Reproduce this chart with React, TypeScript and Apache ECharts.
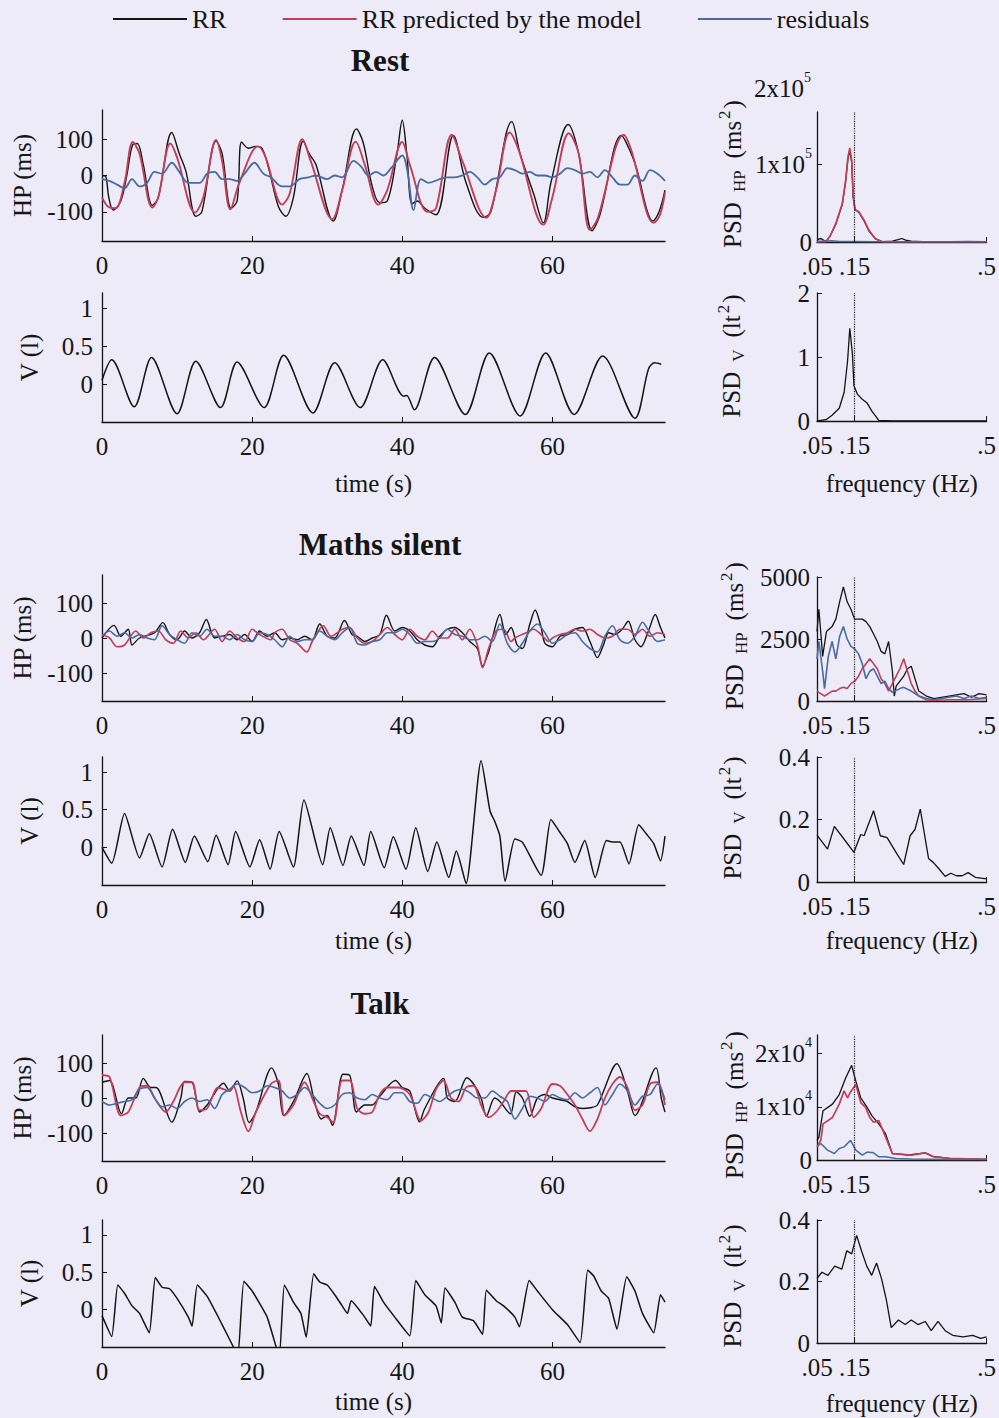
import React, { useEffect, useRef } from 'react';
import * as echarts from 'echarts';

const FONT = "'Liberation Serif', 'Times New Roman', serif";
const INK = '#151515';
const BLACK = '#141414';
const RED = '#c0405a';
const BLUE = '#4a6b9c';
const TICK_FS = 25;
const NAME_FS = 25;

const timeTicks = [0, 20, 40, 60];
const hpTicks = [-100, 0, 100];
const vTicks = [0, 0.5, 1];
const freqTicks = [0.05, 0.15, 0.5];
const bandLimit = 0.15;
const legendNames = ['RR', 'RR predicted by the model', 'residuals'];

// ---------- REST ----------
const restRR = [[0,0],[0.5,-3],[0.9,-60],[1.5,-95],[2.5,-70],[3.3,0],[4.1,85],[4.7,88],[5.5,30],[6.7,-82],[7.5,-60],[9.3,118],[10.3,60],[11.2,10],[12.5,-112],[13.3,-100],[15.2,95],[16,60],[17.2,-90],[18,-70],[18.6,92],[19.5,75],[20.5,80],[21.3,75],[22.2,20],[23.5,-85],[24.5,-112],[25.5,-60],[26.8,95],[27.6,60],[28.5,30],[30.8,-125],[32,-40],[33.9,128],[34.8,90],[36,-30],[37,-75],[38,-70],[39.3,60],[40.0,152],[40.6,60],[41.3,-78],[42,-70],[43,-90],[44.5,-108],[46.8,110],[48.5,-20],[50.8,-115],[51.8,-100],[54.6,148],[55.7,60],[57.5,-50],[58.8,-130],[59.8,-20],[62.1,140],[63.5,60],[65.3,-152],[66.3,-110],[69.2,110],[70.5,60],[71.2,20],[73.4,-125],[74.2,-100],[75,-40]];
const restPred = [[0,-60],[0.8,-85],[1.8,-90],[3,-20],[4.1,92],[5,60],[6.7,-88],[7.5,-60],[9.1,88],[10,50],[12.4,-102],[13.5,-60],[15.2,98],[16,40],[17.1,-93],[18.3,-20],[20.8,80],[21.8,50],[24,-80],[25,-50],[26.7,100],[27.8,40],[30.7,-120],[32,-40],[33.8,93],[35,30],[36.8,-80],[38,-40],[40,92],[41,30],[43.4,-100],[44.5,-90],[46.6,112],[48,40],[51.2,-116],[52.5,-40],[54.3,118],[55.5,70],[58.8,-135],[60,-60],[62.2,116],[63.5,60],[65,-150],[66,-120],[69.5,112],[70.5,70],[73.5,-130],[74.3,-110],[75,-47]];
const restResid = [[0,-10],[1,-15],[2,-25],[3,-35],[4,-10],[5,-30],[6,-20],[7,10],[8,5],[9.3,35],[10.3,10],[11.5,-20],[13,-20],[14,5],[15,10],[16,-10],[17,-10],[18,-15],[19,5],[20.3,35],[21.5,5],[22.5,-5],[24,-30],[25,-30],[26.3,-10],[27.5,-5],[28.5,0],[30,-10],[31,0],[32,-5],[33.5,40],[34.5,25],[35.5,0],[36.5,10],[37.5,0],[38.5,20],[40,55],[40.7,10],[41.5,-95],[42.5,-10],[43.5,-20],[45,-10],[46,-5],[47,-5],[48,0],[49,10],[50,-5],[51,-25],[52,-10],[53,-5],[54,20],[55,15],[56,5],[57,10],[58,0],[59,0],[60,-5],[61,5],[62,20],[63,15],[64,5],[65,10],[66,-5],[67,15],[68,-5],[69,-25],[70,-25],[71,0],[72,-15],[73,15],[74,5],[75,-15]];
const restV = [[0,0.05],[1.3,0.32],[4.3,-0.3],[6.6,0.35],[10,-0.39],[12.5,0.3],[15.8,-0.31],[18,0.29],[21.6,-0.31],[24.2,0.38],[28.1,-0.38],[31,0.28],[34.4,-0.31],[37.4,0.32],[40.2,-0.16],[40.6,-0.15],[41.6,-0.34],[44.3,0.35],[48.4,-0.4],[51.6,0.41],[55.7,-0.42],[59.1,0.41],[62.9,-0.4],[66.7,0.37],[71,-0.45],[72.8,0.2],[73.6,0.28],[74.5,0.26]];
const restPsdRR = [[0.05,1500],[0.055,4000],[0.06,4500],[0.065,3000],[0.07,1500],[0.074,500],[0.085,8000],[0.1,23000],[0.117,48000],[0.126,78000],[0.132,106000],[0.137,117000],[0.142,103000],[0.146,58000],[0.151,42000],[0.161,38000],[0.175,27000],[0.188,14000],[0.205,4000],[0.223,500],[0.25,1000],[0.265,3000],[0.275,4500],[0.285,2500],[0.3,1000],[0.33,600],[0.38,300],[0.45,200],[0.5,300]];
const restPsdPred = [[0.05,0],[0.074,300],[0.085,8000],[0.1,24000],[0.117,49000],[0.126,79000],[0.132,109000],[0.137,121000],[0.142,105000],[0.146,58000],[0.151,41000],[0.161,39000],[0.175,28000],[0.188,15000],[0.205,4300],[0.223,300],[0.25,200],[0.3,100],[0.4,100],[0.5,100]];
const restPsdResid = [[0.05,800],[0.07,1200],[0.09,1500],[0.11,800],[0.13,500],[0.15,600],[0.2,400],[0.3,300],[0.4,200],[0.45,600],[0.5,300]];
const restPsdV = [[0.05,0],[0.074,0.02],[0.09,0.09],[0.109,0.2],[0.122,0.45],[0.131,0.93],[0.137,1.45],[0.144,1.04],[0.148,0.55],[0.157,0.42],[0.17,0.34],[0.183,0.28],[0.196,0.15],[0.214,0.01],[0.25,0],[0.5,0]];

// ---------- MATHS SILENT ----------
const mathsRR = [[0,0],[1.6,36],[2.5,5],[3.5,25],[4,-20],[5,0],[7,15],[8.1,44],[9,10],[10,-5],[11,20],[12,0],[13,15],[13.9,53],[15,0],[16,5],[17,10],[18,-5],[19,10],[20,-10],[21,20],[22,5],[23,15],[24,-5],[25,0],[26,-5],[27,5],[28,-5],[29,40],[30,5],[31,0],[32.3,50],[33.3,10],[34,5],[35,-10],[36,0],[37,10],[37.9,65],[39,20],[40,30],[41,20],[42,-5],[43,-20],[44,-25],[45,5],[46,25],[47,30],[48,15],[49,-10],[50,-30],[50.7,-80],[51.5,-40],[52,0],[53,67],[53.8,10],[54.5,30],[55.3,-20],[56,-30],[57,40],[57.7,80],[58.5,30],[59,-15],[60,-25],[61,5],[62,10],[63,25],[64,30],[65,-10],[66,-56],[66.8,-20],[67.5,15],[68.3,10],[69.3,25],[70.1,48],[71,-5],[71.8,-25],[72.8,20],[73.7,67],[74.4,30],[75,0]];
const mathsPred = [[0,10],[1,0],[2,-25],[3,-20],[4.5,20],[5.5,0],[6.5,15],[7.5,20],[8.5,-5],[9.5,-15],[10.5,20],[11.5,0],[12.5,15],[13.5,-5],[15,25],[16,-10],[17,20],[18,0],[19,-10],[20,25],[21,10],[22.5,-5],[23,15],[24,25],[25,-5],[26,-15],[27.3,-40],[28,-10],[29.5,35],[30.5,5],[32,25],[33,30],[34,0],[35,-15],[36,-10],[37,10],[38,30],[39,10],[40,-5],[41,25],[42,5],[43,-5],[44,20],[45,0],[46,0],[47,25],[48,-5],[49,25],[50,-20],[50.7,-85],[51.5,-30],[52.5,20],[53.5,25],[54.5,-10],[55,0],[56.5,15],[57.5,25],[58.5,10],[59.5,-10],[60,0],[61,10],[62,15],[63,25],[64,20],[65,25],[66,10],[67,0],[68,5],[69,25],[70,25],[71,10],[72,25],[73,5],[74,15],[75,10]];
const mathsResid = [[0,5],[1,20],[2,5],[3,15],[4,0],[5,10],[6,0],[7,-5],[8,35],[9,10],[10,-5],[11,-15],[12,15],[13,5],[14,25],[15,5],[16,5],[17,-5],[18,10],[19,-5],[20,-10],[21,15],[22,10],[23,-5],[24,-25],[25,5],[26,-10],[27,-5],[28,-5],[29,20],[30,5],[31,-5],[32,15],[33,30],[34,-15],[35,-20],[36,-10],[37,-5],[38,15],[39,15],[40,25],[41,10],[42,-15],[43,-10],[44,-10],[45,0],[46,25],[47,10],[48,5],[49,-5],[50,-5],[51,5],[52,-10],[53,40],[54,-15],[55,-40],[56,-15],[57,20],[58,40],[59,15],[60,-15],[61,-5],[62,10],[63,15],[64,-10],[65,-30],[66,-40],[67,5],[68,35],[69,-5],[70,-15],[71,5],[72,45],[73,15],[74,-10],[75,-5]];
const mathsV = [[0,0],[1.3,-0.21],[3,0.45],[5,-0.14],[6.3,0.18],[8,-0.26],[9.4,0.24],[11.1,-0.2],[12.3,0.15],[14.1,-0.19],[15.2,0.16],[16.8,-0.23],[17.8,0.21],[19.7,-0.26],[21,0.1],[22.4,-0.29],[23.6,0.21],[25.5,-0.26],[26.9,0.63],[29.4,-0.23],[30.4,0.26],[32.1,-0.24],[33.2,0.15],[34.9,-0.24],[35.8,0.21],[37.6,-0.27],[38.8,0.14],[40.5,-0.29],[41.8,0.26],[43.4,-0.32],[44.6,0.07],[46.2,-0.4],[47.2,-0.05],[48.5,-0.48],[50.5,1.15],[51.7,0.48],[52.3,0.35],[53,0.15],[53.7,-0.45],[55,0.11],[56,0.07],[58.5,-0.37],[59.8,0.37],[61,0.2],[62,0.05],[63,-0.2],[64.3,0.09],[65.7,-0.4],[67.2,0.09],[68,0.07],[69,0.07],[70.2,-0.22],[71.5,0.3],[72.5,0.18],[73.5,0.05],[74.4,-0.18],[75,0.15]];
const mathsPsdRR = [[0.05,2800],[0.055,3700],[0.065,1800],[0.075,2800],[0.09,3000],[0.1,3300],[0.11,4000],[0.12,4600],[0.13,4000],[0.14,3700],[0.15,3300],[0.16,3300],[0.17,3300],[0.18,3200],[0.19,3000],[0.2,2700],[0.21,2400],[0.22,2000],[0.23,1900],[0.24,2400],[0.25,1200],[0.255,200],[0.26,600],[0.27,800],[0.28,1000],[0.29,1300],[0.3,1400],[0.31,900],[0.32,400],[0.34,200],[0.36,100],[0.38,150],[0.4,200],[0.42,250],[0.44,300],[0.46,150],[0.48,300],[0.5,250]];
const mathsPsdPred = [[0.05,400],[0.06,300],[0.07,200],[0.08,300],[0.09,400],[0.1,400],[0.11,500],[0.12,550],[0.13,500],[0.14,700],[0.15,800],[0.16,1000],[0.17,1300],[0.18,1500],[0.19,1700],[0.2,1500],[0.21,1300],[0.22,900],[0.23,700],[0.24,400],[0.25,700],[0.26,1000],[0.27,1300],[0.28,1700],[0.29,1200],[0.3,700],[0.31,400],[0.32,200],[0.34,50],[0.36,20],[0.4,50],[0.45,50],[0.5,100]];
const mathsPsdResid = [[0.05,1700],[0.055,2400],[0.065,1200],[0.07,500],[0.08,1800],[0.09,2400],[0.1,1700],[0.11,2600],[0.12,3000],[0.13,2500],[0.14,2200],[0.15,2100],[0.16,1900],[0.17,1500],[0.18,900],[0.19,1200],[0.2,1300],[0.21,1000],[0.22,700],[0.23,800],[0.24,500],[0.25,350],[0.27,500],[0.28,550],[0.3,400],[0.32,200],[0.34,100],[0.36,50],[0.38,100],[0.4,150],[0.42,200],[0.44,100],[0.46,200],[0.48,100],[0.5,150]];
const mathsPsdV = [[0.05,0.15],[0.078,0.105],[0.096,0.178],[0.12,0.14],[0.148,0.095],[0.166,0.152],[0.175,0.148],[0.2,0.228],[0.218,0.148],[0.236,0.142],[0.262,0.09],[0.28,0.056],[0.297,0.148],[0.31,0.168],[0.324,0.233],[0.346,0.075],[0.359,0.062],[0.375,0.04],[0.39,0.018],[0.405,0.028],[0.42,0.02],[0.435,0.02],[0.451,0.03],[0.47,0.015],[0.5,0.01]];

// ---------- TALK ----------
const talkRR = [[0,45],[1,50],[2.6,-45],[3.5,0],[4.5,0],[5.5,56],[6.5,30],[7.2,30],[9.3,-69],[10.5,0],[11,47],[12,45],[13,-40],[14,-20],[16.2,42],[17,20],[18,49],[18.8,0],[19.6,-70],[20.5,-40],[22.6,86],[23.5,40],[24.2,-50],[25.5,-10],[27.3,70],[28.2,0],[29.2,-60],[30,-50],[30.7,-78],[32.1,68],[33,65],[33.9,-40],[35,-20],[36,-20],[37,5],[39.1,50],[40,30],[41,20],[42.3,-68],[43,-30],[45.5,56],[46,0],[47,-10],[48.6,58],[49.5,40],[50.5,0],[51.2,-52],[52.3,0],[53,-10],[54.4,-45],[55.2,18],[56,0],[57,-52],[58,0],[59,10],[60,0],[61,-5],[62,-10],[63,-25],[64,-30],[65,-28],[66,-20],[68.6,98],[70,20],[71,-50],[73.8,86],[74.5,0],[75,-40]];
const talkPred = [[0,65],[1,60],[2.5,-50],[3.5,-40],[5,30],[6,35],[7,0],[8.5,-40],[9.5,-10],[11,45],[12,45],[13,-35],[14,-30],[15.5,30],[17,20],[17.5,35],[18.5,-40],[19.5,-95],[20.5,-40],[22.5,40],[23.5,50],[24.3,-50],[25.5,-20],[27,45],[28,0],[29,-45],[30,-55],[30.8,-70],[32,50],[33,50],[34,-30],[35,-45],[36,-40],[37,10],[38,30],[39.5,30],[41,10],[42.5,-65],[43.5,-40],[44.5,25],[45.5,50],[46.5,0],[47.5,-10],[48.5,30],[49.5,35],[50.5,-20],[51.5,-55],[52.5,-40],[53.5,-10],[54.5,20],[55.5,20],[56.5,20],[57.5,-55],[58.5,-30],[60,40],[61,35],[62,10],[63,-20],[64,-60],[65,-95],[66,-60],[67,0],[68,40],[69,60],[70,30],[71,-35],[72,-20],[73,40],[74,45],[75,-20]];
const talkResid = [[0,-10],[1,-20],[2,-15],[3,-10],[4,-5],[5,25],[6,30],[7,0],[8,-25],[9,-20],[10,-30],[11,-10],[12,0],[13,-10],[14,-5],[15,-30],[16,10],[17,25],[18,40],[19,30],[20,15],[21,20],[22,35],[23,30],[24,20],[25,0],[26,10],[27,30],[28,10],[29,-15],[30,-30],[31,-20],[32,10],[33,15],[34,0],[35,-5],[36,10],[37,0],[38,-5],[39,15],[40,15],[41,-10],[42,-15],[43,10],[44,0],[45,-10],[46,5],[47,20],[48,25],[49,15],[50,0],[51,0],[52,20],[53,5],[54,-10],[55,-60],[56,-30],[57,5],[58,0],[59,-10],[60,10],[61,0],[62,-5],[63,15],[64,0],[65,15],[66,30],[67,-20],[68,10],[69,40],[70,20],[71,-20],[72,5],[73,10],[74,40],[75,-5]];
const talkV = [[0,-0.08],[1.3,-0.36],[2.1,0.33],[3,0.22],[4,0.05],[5,-0.05],[6.3,-0.31],[7.1,0.43],[8,0.3],[9,0.28],[10,0.15],[11.5,-0.1],[12,-0.22],[12.7,0.33],[14,0.18],[16,-0.2],[17.5,-0.5],[18.1,-0.62],[18.9,0.38],[20,0.25],[22,-0.1],[23.6,-0.62],[24.3,0.33],[25.5,0.1],[26.5,-0.05],[27.2,-0.37],[28.2,0.48],[29,0.37],[30,0.33],[31,0.2],[32,0.05],[32.7,-0.05],[33.2,0.12],[35,-0.1],[35.8,-0.22],[36.3,0.31],[37.5,0.1],[39,-0.1],[41,-0.35],[41.8,0.39],[43,0.2],[44.5,0.05],[45.2,-0.18],[45.7,0.29],[47,0.1],[48,-0.1],[49.5,-0.15],[50.7,-0.33],[51.2,0.26],[52.5,0.12],[53.5,0.05],[55,-0.1],[55.6,-0.23],[56.9,0.39],[58,0.25],[60,0],[62,-0.2],[63.7,-0.44],[64.7,0.53],[65.5,0.45],[66.5,0.25],[67.5,0.15],[68.6,-0.26],[69.9,0.44],[71,0.25],[72,-0.05],[73.5,-0.31],[74.4,0.2],[75,0.1]];
const talkPsdRR = [[0.05,3700],[0.055,4300],[0.066,9260],[0.091,10500],[0.109,12300],[0.126,15400],[0.142,17800],[0.153,14800],[0.166,11700],[0.183,9900],[0.196,8300],[0.214,6800],[0.232,4900],[0.25,1200],[0.27,1100],[0.29,900],[0.31,1100],[0.337,1350],[0.355,700],[0.38,500],[0.41,200],[0.44,200],[0.5,100]];
const talkPsdPred = [[0.05,2500],[0.06,3700],[0.066,6800],[0.091,8000],[0.109,10500],[0.122,13000],[0.131,11700],[0.139,12800],[0.153,14200],[0.166,10800],[0.179,9900],[0.19,8000],[0.2,7100],[0.214,7400],[0.232,4300],[0.25,1200],[0.27,1100],[0.3,900],[0.337,1350],[0.36,600],[0.4,300],[0.45,200],[0.5,100]];
const talkPsdResid = [[0.05,2500],[0.06,3100],[0.078,1850],[0.096,1230],[0.109,2160],[0.122,2470],[0.139,3700],[0.153,1850],[0.17,900],[0.183,1500],[0.2,1350],[0.214,600],[0.232,600],[0.26,300],[0.3,200],[0.35,150],[0.4,100],[0.5,100]];
const talkPsdV = [[0.05,0.21],[0.063,0.23],[0.079,0.22],[0.097,0.25],[0.116,0.24],[0.129,0.3],[0.142,0.29],[0.155,0.35],[0.168,0.3],[0.182,0.25],[0.195,0.22],[0.208,0.26],[0.221,0.21],[0.234,0.14],[0.247,0.05],[0.266,0.075],[0.284,0.06],[0.3,0.075],[0.318,0.06],[0.337,0.07],[0.353,0.04],[0.371,0.07],[0.39,0.04],[0.41,0.025],[0.437,0.02],[0.463,0.025],[0.484,0.015],[0.5,0.02]];

const supRich = {
  b: { fontSize: TICK_FS, fontFamily: FONT, color: INK, lineHeight: 36 },
  s: { fontSize: 14, fontFamily: FONT, color: INK, lineHeight: 14, verticalAlign: 'top' as const },
};

function trimZero(v: number) {
  return String(v).replace(/^0\./, '.');
}

type PanelCfg = {
  top: number;
  height: number;
  kind: 'time' | 'freq';
  yMin: number;
  yMax: number;
  yTicks: number[];
  yFormatter?: (v: number) => string;
  yRich?: boolean;
  lines: { name: string; data: number[][]; color: string; width: number }[];
  xName?: string;
  xNameGap?: number;
  yName?: string;
  yNameGap?: number;
  smooth?: number;
};

const panels: PanelCfg[] = [
  // Rest
  { top: 110, height: 131, kind: 'time', yMin: -180, yMax: 180, yTicks: hpTicks, yName: 'HP (ms)', yNameGap: 67, smooth: 0.35,
    lines: [{ name: legendNames[0], data: restRR, color: BLACK, width: 1.4 }, { name: legendNames[1], data: restPred, color: RED, width: 1.9 }, { name: legendNames[2], data: restResid, color: BLUE, width: 1.8 }] },
  { top: 293, height: 129, kind: 'time', yMin: -0.5, yMax: 1.2, yTicks: vTicks, yName: 'V (l)', yNameGap: 60, xName: 'time (s)', xNameGap: 49, smooth: 0.3,
    lines: [{ name: 'V', data: restV, color: BLACK, width: 1.5 }] },
  { top: 112, height: 130, kind: 'freq', yMin: 0, yMax: 167000, yTicks: [0, 100000], yRich: true, yFormatter: (v) => (v === 0 ? '{b|0}' : `{b|${v / 1e5}x10}{s|5}`),
    lines: [{ name: legendNames[0], data: restPsdRR, color: BLACK, width: 1.3 }, { name: legendNames[1], data: restPsdPred, color: RED, width: 1.7 }, { name: legendNames[2], data: restPsdResid, color: BLUE, width: 1.5 }] },
  { top: 293, height: 128, kind: 'freq', yMin: 0, yMax: 2, yTicks: [0, 1, 2], xName: 'frequency (Hz)', xNameGap: 50,
    lines: [{ name: 'PSD V', data: restPsdV, color: BLACK, width: 1.3 }] },
  // Maths silent
  { top: 575, height: 126, kind: 'time', yMin: -180, yMax: 180, yTicks: hpTicks, yName: 'HP (ms)', yNameGap: 67, smooth: 0.3,
    lines: [{ name: legendNames[0], data: mathsRR, color: BLACK, width: 1.4 }, { name: legendNames[1], data: mathsPred, color: RED, width: 1.7 }, { name: legendNames[2], data: mathsResid, color: BLUE, width: 1.6 }] },
  { top: 757, height: 128, kind: 'time', yMin: -0.5, yMax: 1.2, yTicks: vTicks, yName: 'V (l)', yNameGap: 60, xName: 'time (s)', xNameGap: 43, smooth: 0.2,
    lines: [{ name: 'V', data: mathsV, color: BLACK, width: 1.5 }] },
  { top: 577, height: 124, kind: 'freq', yMin: 0, yMax: 5000, yTicks: [0, 2500, 5000],
    lines: [{ name: legendNames[0], data: mathsPsdRR, color: BLACK, width: 1.3 }, { name: legendNames[1], data: mathsPsdPred, color: RED, width: 1.6 }, { name: legendNames[2], data: mathsPsdResid, color: BLUE, width: 1.6 }] },
  { top: 757, height: 125, kind: 'freq', yMin: 0, yMax: 0.4, yTicks: [0, 0.2, 0.4], xName: 'frequency (Hz)', xNameGap: 46,
    lines: [{ name: 'PSD V', data: mathsPsdV, color: BLACK, width: 1.3 }] },
  // Talk
  { top: 1035, height: 126, kind: 'time', yMin: -180, yMax: 180, yTicks: hpTicks, yName: 'HP (ms)', yNameGap: 67, smooth: 0.3,
    lines: [{ name: legendNames[0], data: talkRR, color: BLACK, width: 1.4 }, { name: legendNames[1], data: talkPred, color: RED, width: 1.8 }, { name: legendNames[2], data: talkResid, color: BLUE, width: 1.6 }] },
  { top: 1220, height: 127, kind: 'time', yMin: -0.5, yMax: 1.2, yTicks: vTicks, yName: 'V (l)', yNameGap: 60, xName: 'time (s)', xNameGap: 42, smooth: 0.15,
    lines: [{ name: 'V', data: talkV, color: BLACK, width: 1.5 }] },
  { top: 1035, height: 125, kind: 'freq', yMin: 0, yMax: 23500, yTicks: [0, 10000, 20000], yRich: true, yFormatter: (v) => (v === 0 ? '{b|0}' : `{b|${v / 1e4}x10}{s|4}`),
    lines: [{ name: legendNames[0], data: talkPsdRR, color: BLACK, width: 1.3 }, { name: legendNames[1], data: talkPsdPred, color: RED, width: 1.7 }, { name: legendNames[2], data: talkPsdResid, color: BLUE, width: 1.5 }] },
  { top: 1220, height: 123, kind: 'freq', yMin: 0, yMax: 0.4, yTicks: [0, 0.2, 0.4], xName: 'frequency (Hz)', xNameGap: 48,
    lines: [{ name: 'PSD V', data: talkPsdV, color: BLACK, width: 1.3 }] },
];

const titles = [
  { text: 'Rest', y: 60 },
  { text: 'Maths silent', y: 544 },
  { text: 'Talk', y: 1003 },
];

const psdLabels = [
  { kind: 'HP', x: 732, y: 174 },
  { kind: 'V', x: 731, y: 356 },
  { kind: 'HP', x: 734, y: 636 },
  { kind: 'V', x: 732, y: 818 },
  { kind: 'HP', x: 734, y: 1105 },
  { kind: 'V', x: 732, y: 1286 },
];

function buildOption() {
  const grid: any[] = [];
  const xAxis: any[] = [];
  const yAxis: any[] = [];
  const series: any[] = [];
  const lineStyle = { color: INK, width: 1.3 };
  const labelStyle = { fontFamily: FONT, fontSize: TICK_FS, color: INK };

  panels.forEach((p, i) => {
    const isTime = p.kind === 'time';
    grid.push({ left: isTime ? 102 : 817, width: isTime ? 563 : 171, top: p.top, height: p.height, containLabel: false });
    xAxis.push({
      type: 'value', gridIndex: i, position: 'bottom',
      min: isTime ? 0 : 0.05, max: isTime ? 75 : 0.5,
      splitLine: { show: false }, axisLine: { show: true, onZero: false, lineStyle },
      axisTick: { show: true, inside: true, length: 5, lineStyle: { color: INK }, customValues: isTime ? timeTicks : freqTicks },
      axisLabel: { ...labelStyle, margin: 12, customValues: isTime ? timeTicks : freqTicks, formatter: (v: number) => (isTime ? String(v) : trimZero(v)) },
      name: p.xName, nameLocation: 'middle', nameGap: p.xNameGap,
      nameTextStyle: { fontFamily: FONT, fontSize: NAME_FS, color: INK, padding: isTime ? [0, 20, 0, 0] : 0 },
    });
    yAxis.push({
      type: 'value', gridIndex: i, position: 'left', min: p.yMin, max: p.yMax,
      splitLine: { show: false }, axisLine: { show: true, onZero: false, lineStyle },
      axisTick: { show: true, inside: true, length: 5, lineStyle: { color: INK }, customValues: p.yTicks },
      axisLabel: p.yRich
        ? { margin: 5, customValues: p.yTicks, formatter: p.yFormatter, rich: supRich }
        : { ...labelStyle, margin: isTime ? 9 : 7, customValues: p.yTicks, formatter: p.yFormatter || ((v: number) => String(v)) },
      name: p.yName, nameLocation: 'middle', nameGap: p.yNameGap, nameRotate: 90,
      nameTextStyle: { fontFamily: FONT, fontSize: NAME_FS, color: INK },
    });
    p.lines.forEach((ln, j) => {
      const s: any = {
        type: 'line', name: ln.name, data: ln.data, xAxisIndex: i, yAxisIndex: i,
        symbol: 'none', showSymbol: false, smooth: p.smooth ?? false, clip: true,
        lineStyle: { color: ln.color, width: ln.width }, itemStyle: { color: ln.color },
        z: 2 + j,
      };
      if (!isTime && j === 0) {
        s.markLine = {
          silent: true, symbol: 'none', label: { show: false },
          lineStyle: { type: 'dotted', color: '#222', width: 1.2 },
          data: [{ xAxis: bandLimit }],
        };
      }
      series.push(s);
    });
  });

  const graphic: any[] = [];
  titles.forEach((t) => {
    graphic.push({
      type: 'text', x: 380, y: t.y,
      style: { text: t.text, font: `bold 31px ${FONT}`, fill: INK, align: 'center', verticalAlign: 'middle' },
    });
  });
  psdLabels.forEach((l) => {
    const text = l.kind === 'HP' ? '{n|PSD}{sub|HP}{n|(ms}{sup|2}{n|)}' : '{n|PSD}{sub|V}{n|(lt}{sup|2}{n|)}';
    graphic.push({
      type: 'text', x: l.x, y: l.y, rotation: Math.PI / 2,
      style: {
        text, align: 'center', verticalAlign: 'middle', fill: INK,
        rich: {
          n: { fontSize: 25, fontFamily: FONT, fill: INK, lineHeight: 32 },
          sub: { fontSize: 17, fontFamily: FONT, fill: INK, lineHeight: 14, verticalAlign: 'bottom', padding: [0, 12, 0, 10] },
          sup: { fontSize: 17, fontFamily: FONT, fill: INK, lineHeight: 14, verticalAlign: 'top', padding: [0, 2, 0, 2] },
        },
      },
    });
  });
  // upper tick label of the rest PSD_HP axis (above the plotted range)
  graphic.push({
    type: 'text', x: 811, y: 88,
    style: { text: '{b|2x10}{s|5}', align: 'right', verticalAlign: 'middle', rich: {
      b: { fontSize: TICK_FS, fontFamily: FONT, fill: INK, lineHeight: 36 },
      s: { fontSize: 14, fontFamily: FONT, fill: INK, lineHeight: 14, verticalAlign: 'top' },
    } },
  });

  return {
    animation: false,
    backgroundColor: '#ecebf7',
    textStyle: { fontFamily: FONT },
    legend: {
      data: legendNames, left: 108, top: 1, itemWidth: 74, itemHeight: 2, itemGap: 56, icon: 'rect',
      textStyle: { fontFamily: FONT, fontSize: 26, color: INK },
      selectedMode: false,
    },
    grid, xAxis, yAxis, series, graphic,
  };
}

export default function App() {
  const ref = useRef<HTMLDivElement>(null);
  useEffect(() => {
    if (!ref.current) return;
    const chart = echarts.init(ref.current, undefined, { renderer: 'svg' });
    chart.setOption(buildOption() as any);
    return () => chart.dispose();
  }, []);
  return <div ref={ref} style={{ position: 'absolute', left: 0, top: 0, width: 999, height: 1418 }} />;
}
